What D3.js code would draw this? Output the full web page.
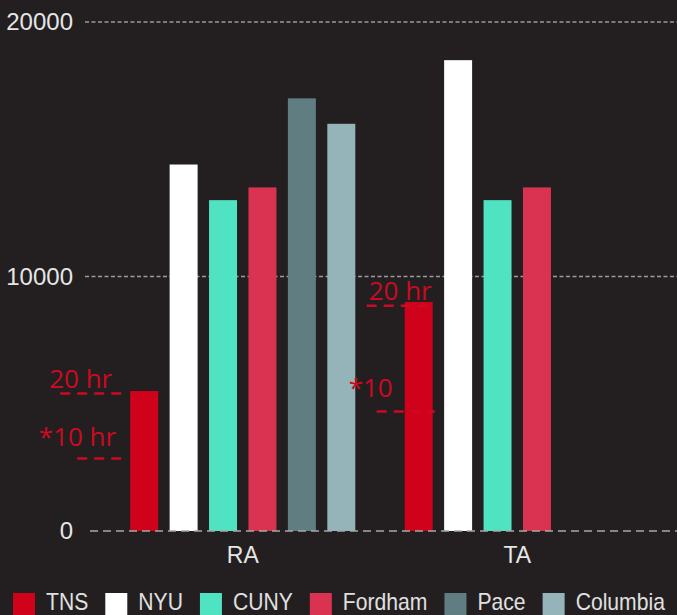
<!DOCTYPE html>
<html>
<head>
<meta charset="utf-8">
<script src="https://cdn.jsdelivr.net/npm/d3@7"></script>
<style>
  html, body { margin: 0; padding: 0; background: #231f20; }
  svg { display: block; }
</style>
</head>
<body>
<svg id="chart" width="677" height="615"></svg>
<script>
// ---- data ----
const groups = ["RA", "TA"];
const schools = ["TNS", "NYU", "CUNY", "Fordham", "Pace", "Columbia"];
const raValues = [5500, 14400, 13000, 13500, 17000, 16000];
const taValues = [9000, 18500, 13000, 13500, null, null];
const yTicks = [0, 10000, 20000];
const colors = ["#d0021b", "#ffffff", "#50e3c2", "#d93351", "#607d82", "#94b4b9"];
// annotations (hour-threshold markers)
const annoGroups = ["RA", "RA", "TA", "TA"];
const annoValues = [5400, 2850, 8850, 4700];
const annoLabels = ["20 hr", "*10 hr", "20 hr", "*10"];

// ---- layout ----
const W = 677, H = 615;
const svg = d3.select("#chart");
svg.append("rect").attr("width", W).attr("height", H).attr("fill", "#231f20");

const y = d3.scaleLinear().domain([0, 20000]).range([531, 22]);
const x0 = d3.scaleBand().domain(groups).range([105.5, 654.5]).paddingInner(0.18).paddingOuter(0.09);
const x1 = d3.scaleBand().domain(schools).range([0, x0.bandwidth()]).paddingInner(0.29).paddingOuter(0);

const table = groups.map((g, gi) => ({
  group: g,
  values: schools.map((s, si) => ({ school: s, value: (gi === 0 ? raValues : taValues)[si], color: colors[si] }))
}));

// gridlines (non-zero)
svg.append("g").selectAll("line")
  .data(yTicks.filter(t => t !== 0))
  .join("line")
  .attr("x1", 85).attr("x2", W)
  .attr("y1", d => y(d)).attr("y2", d => y(d))
  .attr("stroke", "#9b9b9b").attr("stroke-width", 1.5)
  .attr("stroke-dasharray", "4,2.5");

// bars
const gGroups = svg.append("g").selectAll("g")
  .data(table).join("g")
  .attr("transform", d => `translate(${x0(d.group)},0)`);
gGroups.selectAll("rect")
  .data(d => d.values.filter(v => v.value != null))
  .join("rect")
  .attr("x", d => x1(d.school))
  .attr("width", x1.bandwidth())
  .attr("y", d => y(d.value))
  .attr("height", d => y(0) - y(d.value))
  .attr("fill", d => d.color);

// zero baseline (over bars)
svg.append("line")
  .attr("x1", 90).attr("x2", W)
  .attr("y1", y(0)).attr("y2", y(0))
  .attr("stroke", "#a8a8a8").attr("stroke-width", 1.5)
  .attr("stroke-dasharray", "8,5");

// y axis labels
const yAxis = svg.append("g").attr("transform", "translate(73,0)")
  .call(d3.axisLeft(y).tickValues(yTicks).tickFormat(d3.format("d")).tickSize(0).tickPadding(0));
yAxis.select(".domain").remove();
yAxis.selectAll("text")
  .attr("fill", "#e6e6e6")
  .style("font-family", "'Liberation Sans', Arial, sans-serif")
  .style("font-size", "24px");

// x axis labels
const xAxis = svg.append("g").attr("transform", `translate(0,${y(0)})`)
  .call(d3.axisBottom(x0).tickSize(0).tickPadding(16));
xAxis.select(".domain").remove();
xAxis.selectAll("text")
  .attr("fill", "#e6e6e6")
  .style("font-family", "'Liberation Sans', Arial, sans-serif")
  .style("font-size", "23px");

// annotations
const annoLayout = [
  { lx1: -70, lx2: -3, tx: -18, ty: -6 },
  { lx1: -53, lx2: -5, tx: -14, ty: -12 },
  { lx1: -38, lx2: 27, tx: 27, ty: -6 },
  { lx1: -28, lx2: 30, tx: -12, ty: -14 }
];
const red = "#cc0a22";
const anno = svg.append("g");
annoLabels.forEach((lab, i) => {
  const bx = x0(annoGroups[i]) + x1("TNS");
  const yy = y(annoValues[i]);
  const L = annoLayout[i];
  anno.append("line")
    .attr("x1", bx + L.lx1).attr("x2", bx + L.lx2)
    .attr("y1", yy).attr("y2", yy)
    .attr("stroke", red).attr("stroke-width", 2.5)
    .attr("stroke-dasharray", "10,7");
  anno.append("text")
    .attr("x", bx + L.tx).attr("y", yy + L.ty)
    .attr("text-anchor", "end")
    .attr("fill", red)
    .style("font-family", "'Open Sans', sans-serif")
    .style("font-size", "26px")
    .text(lab);
});

// legend
const legend = svg.append("g");
let lx = 13;
const sx = 0.92;
schools.forEach((s, i) => {
  legend.append("rect")
    .attr("x", lx).attr("y", 593).attr("width", 22).attr("height", 22)
    .attr("fill", colors[i]);
  const t = legend.append("text")
    .attr("transform", `translate(${lx + 33},610) scale(${sx},1)`)
    .attr("fill", "#e0e0e0")
    .style("font-family", "'Liberation Sans', Arial, sans-serif")
    .style("font-size", "23px")
    .text(s);
  lx += 33 + t.node().getComputedTextLength() * sx + 17;
});
</script>
</body>
</html>
